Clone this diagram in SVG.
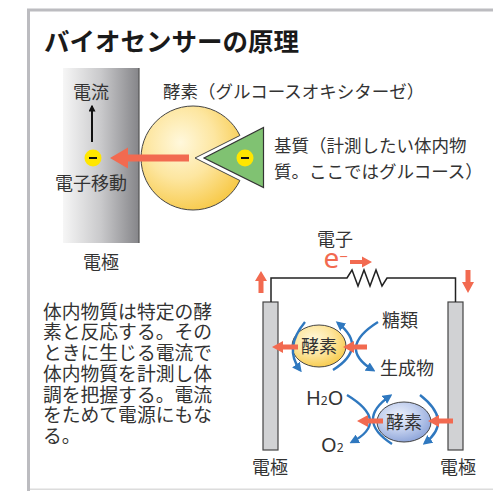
<svg xmlns="http://www.w3.org/2000/svg" width="493" height="491" viewBox="0 0 493 491">
  <style>
    text { font-family: "Noto Sans CJK JP", "Noto Sans", sans-serif; fill: #333; }
    .lbl { font-size: 18px; }
    .lbl2 { font-size: 17.5px; }
    .para { font-size: 18.8px; }
    .title { font-size: 25.5px; font-weight: bold; fill: #1a1a1a; }
    .latin { font-family: "Noto Sans", sans-serif; }
    .red { fill: #f26a50; }
    .blue { fill: none; stroke: #2f78bf; stroke-width: 2.4; marker-end: url(#bh); }
    .wire { fill: none; stroke: #222; stroke-width: 1.5; stroke-linejoin: miter; }
    .elec { fill: #d1d2d4; stroke: #444; stroke-width: 1.2; }
    .minus { fill: #ffe600; }
  </style>
  <defs>
    <linearGradient id="gElec" x1="0" y1="0" x2="1" y2="0">
      <stop offset="0" stop-color="#f6f6f6"/>
      <stop offset="0.5" stop-color="#c9c9cb"/>
      <stop offset="1" stop-color="#858589"/>
    </linearGradient>
    <radialGradient id="gYel" cx="0.4" cy="0.35" r="0.7">
      <stop offset="0" stop-color="#fff8dc"/>
      <stop offset="0.5" stop-color="#fde6a0"/>
      <stop offset="1" stop-color="#f7c948"/>
    </radialGradient>
    <radialGradient id="gBlue" cx="0.4" cy="0.35" r="0.7">
      <stop offset="0" stop-color="#eef2fb"/>
      <stop offset="0.5" stop-color="#c3d0ee"/>
      <stop offset="1" stop-color="#8aa2d8"/>
    </radialGradient>
    <marker id="bh" viewBox="0 0 10 10" refX="7" refY="5" markerWidth="4" markerHeight="4" orient="auto" markerUnits="strokeWidth">
      <path d="M0,0 L10,5 L0,10 Z" fill="#2f78bf"/>
    </marker>
    <marker id="kh" viewBox="0 0 10 10" refX="8" refY="5" markerWidth="7" markerHeight="7" orient="auto" markerUnits="userSpaceOnUse">
      <path d="M0,0 L10,5 L0,10 Z" fill="#111"/>
    </marker>
  </defs>

  <!-- panel frame -->
  <rect x="0" y="0" width="493" height="491" fill="#fff"/>
  <path d="M493 10 H28.5 V491" fill="none" stroke="#bcbcc0" stroke-width="3"/>
  <path d="M30 489.3 H493" fill="none" stroke="#dcdcdc" stroke-width="1.5"/>

  <text class="title" x="44" y="50.5">バイオセンサーの原理</text>

  <!-- upper figure: electrode, enzyme, substrate -->
  <g id="electrode-big">
    <rect x="63" y="68" width="76" height="175" fill="url(#gElec)"/>
    <line x1="139" y1="68" x2="139" y2="243" stroke="#555" stroke-width="1.2"/>
    <text class="lbl" x="73" y="99">電流</text>
    <text class="lbl" x="55" y="190">電子移動</text>
    <text class="lbl" x="83" y="269">電極</text>
    <circle class="minus" cx="93" cy="158" r="8.5"/>
    <rect x="89" y="157" width="8" height="2" fill="#111"/>
  </g>

  <g id="enzyme-big">
    <path d="M195 158 L239.9 135.5 A52 52 0 1 0 239.9 180.5 Z" fill="url(#gYel)" stroke="#444" stroke-width="1"/>
    <text class="lbl2" x="163" y="98">酵素（グルコースオキシターゼ）</text>
  </g>

  <g id="substrate">
    <path d="M204 158 L263.5 127.5 L263.5 187.5 Z" fill="#80c272" stroke="#333" stroke-width="1.2"/>
    <circle class="minus" cx="245" cy="158" r="8.5"/>
    <rect x="241" y="157" width="8" height="2" fill="#111"/>
    <text class="lbl2" x="274" y="152">基質（計測したい体内物</text>
    <text class="lbl2" x="274" y="178">質。ここではグルコース）</text>
  </g>

  <!-- explanation -->
  <g id="description">
    <text class="para" x="43" y="318.6">体内物質は特定の酵</text>
    <text class="para" x="43" y="339.4">素と反応する。その</text>
    <text class="para" x="43" y="360.1">ときに生じる電流で</text>
    <text class="para" x="43" y="380.9">体内物質を計測し体</text>
    <text class="para" x="43" y="401.6">調を把握する。電流</text>
    <text class="para" x="43" y="422.4">をためて電源にもな</text>
    <text class="para" x="43" y="443.1">る。</text>
  </g>

  <!-- lower figure: biofuel cell circuit -->
  <g id="electrode-left">
    <rect class="elec" x="263" y="302" width="15" height="148"/>
    <text class="lbl" x="270" y="474" text-anchor="middle">電極</text>
  </g>
  <g id="electrode-right">
    <rect class="elec" x="448" y="302" width="15" height="148"/>
    <text class="lbl" x="458" y="474" text-anchor="middle">電極</text>
  </g>
  <g id="load">
    <text class="lbl" x="317" y="246">電子</text>
    <text class="latin" x="323.5" y="268" font-size="28" style="fill:#f26a50">e<tspan font-size="15" dy="-6">−</tspan></text>
  </g>
  <g id="enzyme-anode">
    <ellipse cx="319" cy="346" rx="27" ry="21" fill="url(#gYel)" stroke="#444" stroke-width="1"/>
    <text class="lbl" x="319" y="353" text-anchor="middle">酵素</text>
  </g>
  <g id="enzyme-cathode">
    <ellipse cx="404" cy="422" rx="27" ry="20" fill="url(#gBlue)" stroke="#444" stroke-width="1"/>
    <text class="lbl" x="404" y="429" text-anchor="middle">酵素</text>
  </g>
  <g id="species">
    <text class="lbl" x="382" y="327">糖類</text>
    <text class="lbl" x="380" y="375">生成物</text>
    <text class="latin" x="306" y="405" font-size="20">H<tspan font-size="12">2</tspan>O</text>
    <text class="latin" x="321" y="452" font-size="20">O<tspan font-size="12">2</tspan></text>
  </g>

  <g id="connectors">
    <!-- current arrow on the big electrode -->
    <line x1="92" y1="142" x2="92" y2="106" stroke="#111" stroke-width="2" marker-end="url(#kh)"/>
    <!-- electron transfer to electrode -->
    <polygon class="red" points="189,154.5 128,154.5 128,147.5 110,158 128,168.5 128,161.5 189,161.5"/>
    <!-- external circuit with resistor -->
    <path class="wire" d="M271 302 V278 H347 L352 270 L358 286 L364 270 L370 286 L376 270 L382 286 L387 278 H455.5 V302"/>
    <polygon class="red" points="350,260 362,260 362,256.5 372,262 362,267.5 362,264 350,264"/>
    <polygon class="red" points="258.5,293 258.5,281 255,281 261,271 267,281 263.5,281 263.5,293"/>
    <polygon class="red" points="465.5,270 465.5,282 462,282 468,293 474,282 470.5,282 470.5,270"/>
    <!-- anode reaction -->
    <path class="blue" d="M305 322 Q283.5 348 300 370"/>
    <path class="blue" d="M333 370 Q368.5 347.5 338 323"/>
    <path class="blue" d="M378 322 Q336.5 348 373 370"/>
    <polygon class="red" points="298,344.5 283,344.5 283,341 272,347 283,353 283,349.5 298,349.5"/>
    <polygon class="red" points="367,344.5 354,344.5 354,341 343,347 354,353 354,349.5 367,349.5"/>
    <!-- cathode reaction -->
    <path class="blue" d="M392 444 Q355 420 390 396"/>
    <path class="blue" d="M420 395 Q453.5 421 425 443"/>
    <path class="blue" d="M347 395 Q390.5 421.5 352 442"/>
    <polygon class="red" points="383,418.5 368,418.5 368,415 357,421 368,427 368,423.5 383,423.5"/>
    <polygon class="red" points="453,418.5 439,418.5 439,415 428,421 439,427 439,423.5 453,423.5"/>
  </g>
</svg>
